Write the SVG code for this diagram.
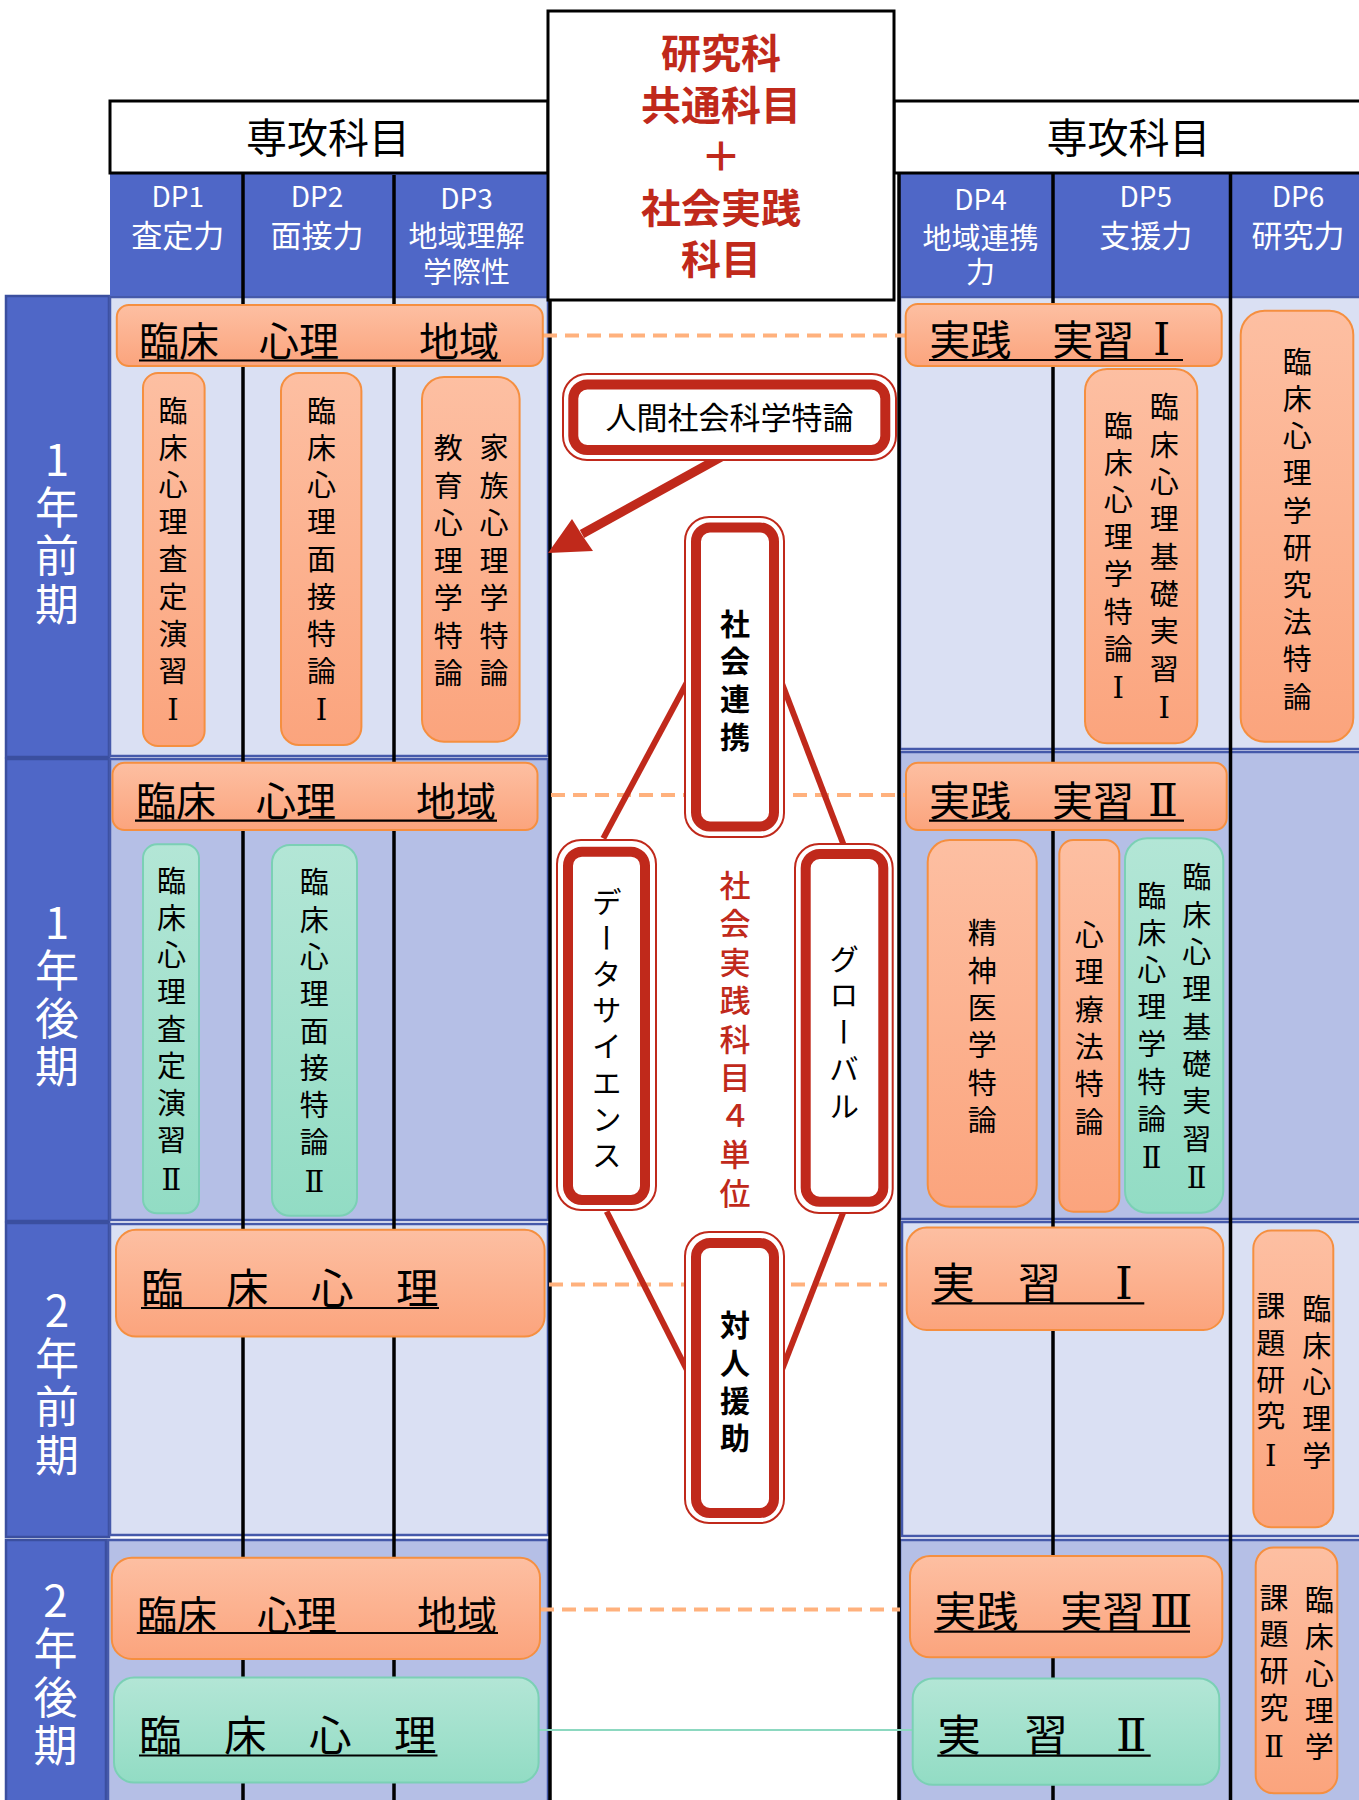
<svg xmlns="http://www.w3.org/2000/svg" width="1359" height="1800" viewBox="0 0 1359 1800">
<defs>
<linearGradient id="gOr" x1="0" y1="0" x2="0" y2="1"><stop offset="0" stop-color="#FDBFA2"/><stop offset="1" stop-color="#FBA47D"/></linearGradient>
<linearGradient id="gTe" x1="0" y1="0" x2="0" y2="1"><stop offset="0" stop-color="#B3E6D6"/><stop offset="1" stop-color="#92DCC4"/></linearGradient>
<style>
text{font-family:"Noto Sans CJK JP","Noto Sans",sans-serif;fill:#000}
.rn{font-family:"DejaVu Serif","Liberation Serif","DejaVu Sans",serif}
.or{fill:url(#gOr);stroke:#F58F40;stroke-width:2}
.te{fill:url(#gTe);stroke:#7BD0B5;stroke-width:2}
.rl{fill:#DAE0F3;stroke:#4559AA;stroke-width:2.5}
.rm{fill:#B5BFE6;stroke:#4559AA;stroke-width:2.5}
.pb{fill:#4F67C7;stroke:#3B4F9F;stroke-width:2.5}
.hb{fill:#fff;stroke:#000;stroke-width:3}
.dpb{fill:#4F67C7}
.gl{stroke:#000;stroke-width:3.5}
.ul{stroke:#000;stroke-width:2.2}
.dash{stroke:#FFB17D;stroke-width:4;stroke-dasharray:14 8;fill:none}
.rt1{fill:#fff;stroke:#C0291B;stroke-width:2}
.rt2{fill:#fff;stroke:#C0291B;stroke-width:10}
.rline{stroke:#C0291B;stroke-width:6;fill:none}
.v{writing-mode:vertical-rl;text-orientation:upright;text-anchor:middle}
.pt{fill:#fff;font-size:44px;letter-spacing:4.3px}
.dp{fill:#fff;font-size:28px;text-anchor:middle}
.dpk{font-size:31px}
.dpk2{font-size:29px}
.vt{font-size:29px}
.hd{font-size:41px;text-anchor:middle}
.tt{fill:#C0291B;font-size:40px;font-weight:bold;text-anchor:middle}
</style>
</defs>

<g id="frame">
  <rect class="pb" x="6" y="296" width="103" height="461"/>
  <rect class="pb" x="6" y="759" width="103" height="462"/>
  <rect class="pb" x="6" y="1223" width="103" height="314"/>
  <rect class="pb" x="6" y="1540" width="100" height="262"/>
  <rect class="rl" x="110" y="297" width="438" height="459"/>
  <rect class="rm" x="110" y="759" width="438" height="461"/>
  <rect class="rl" x="110" y="1224" width="438" height="311"/>
  <rect class="rm" x="108" y="1540" width="440" height="262"/>
  <rect class="rl" x="900" y="297" width="462" height="452"/>
  <rect class="rm" x="900" y="752" width="462" height="467"/>
  <rect class="rl" x="902" y="1222" width="460" height="314"/>
  <rect class="rm" x="900" y="1540" width="462" height="262"/>
  <rect class="dpb" x="110" y="173" width="438" height="123"/>
  <rect class="dpb" x="898" y="173" width="461" height="123"/>
  <line class="gl" x1="243" y1="173" x2="243" y2="1800"/>
  <line class="gl" x1="394" y1="175" x2="394" y2="1800"/>
  <line class="gl" x1="1053" y1="173" x2="1053" y2="1800"/>
  <line class="gl" x1="1230.5" y1="173" x2="1230.5" y2="1800"/>
  <line class="gl" x1="550" y1="290" x2="550" y2="1800"/>
  <line class="gl" x1="899" y1="173" x2="899" y2="1800"/>
</g>

<g id="period-1"><text class="pt v" x="57" y="533.7">1年前期</text></g>
<g id="period-2"><text class="pt v" x="57" y="996.4">1年後期</text></g>
<g id="period-3"><text class="pt v" x="57" y="1384.7">2年前期</text></g>
<g id="period-4"><text class="pt v" x="55.5" y="1675">2年後期</text></g>

<g id="header-left"><rect class="hb" x="110" y="101" width="438" height="72"/><text class="hd" x="328" y="153">専攻科目</text></g>
<g id="header-right"><rect class="hb" x="894" y="101" width="470" height="72"/><text class="hd" x="1128.5" y="153">専攻科目</text></g>
<g id="header-center"><rect class="hb" x="548" y="11" width="346" height="289"/>
  <text class="tt"><tspan x="721" y="68">研究科</tspan><tspan x="721" y="119.5">共通科目</tspan><tspan x="721" y="171">＋</tspan><tspan x="721" y="222.5">社会実践</tspan><tspan x="721" y="274">科目</tspan></text>
</g>

<g id="dp1"><text class="dp"><tspan x="177.7" y="207">DP1</tspan><tspan class="dpk" x="177.7" y="247">査定力</tspan></text></g>
<g id="dp2"><text class="dp"><tspan x="317" y="207">DP2</tspan><tspan class="dpk" x="317" y="247">面接力</tspan></text></g>
<g id="dp3"><text class="dp"><tspan x="466.5" y="209">DP3</tspan><tspan class="dpk2" x="466.5" y="247">地域理解</tspan><tspan class="dpk2" x="466.5" y="283">学際性</tspan></text></g>
<g id="dp4"><text class="dp"><tspan x="980.5" y="210">DP4</tspan><tspan class="dpk2" x="980.5" y="249">地域連携</tspan><tspan class="dpk2" x="980.5" y="283">力</tspan></text></g>
<g id="dp5"><text class="dp"><tspan x="1145.7" y="207">DP5</tspan><tspan class="dpk" x="1145.7" y="247">支援力</tspan></text></g>
<g id="dp6"><text class="dp"><tspan x="1298" y="207">DP6</tspan><tspan class="dpk" x="1298" y="247">研究力</tspan></text></g>

<g id="connectors">
  <line class="dash" x1="543" y1="335.5" x2="905" y2="335.5"/>
  <line class="dash" x1="551" y1="795" x2="906" y2="795"/>
  <line class="dash" x1="549" y1="1284.5" x2="887" y2="1284.5"/>
  <line class="dash" x1="540" y1="1609.5" x2="900" y2="1609.5"/>
  <line x1="538.6" y1="1730" x2="912.7" y2="1730" stroke="#8CD8C0" stroke-width="1.8"/>
  <line class="rline" x1="692" y1="673" x2="603.3" y2="838.3"/>
  <line class="rline" x1="778" y1="673" x2="845" y2="848.5"/>
  <line class="rline" x1="606.7" y1="1211.5" x2="692" y2="1380"/>
  <line class="rline" x1="845" y1="1207.7" x2="778" y2="1380"/>
  <line x1="732" y1="451" x2="582" y2="534" stroke="#C0291B" stroke-width="9"/>
  <polygon points="548,553 572,519 582,535 593,551" fill="#C0291B"/>
</g>

<g id="n-jinkan"><rect class="rt1" x="563" y="374" width="333" height="86" rx="24"/><rect class="rt2" x="573.3" y="384.5" width="312" height="65.5" rx="14"/><text x="729.5" y="428.5" font-size="31" text-anchor="middle">人間社会科学特論</text></g>
<g id="n-renkei"><rect class="rt1" x="685" y="517" width="99" height="320" rx="24"/><rect class="rt2" x="696" y="527.5" width="78" height="299" rx="14"/>
  <text class="v" x="735" y="683.9" font-size="30" font-weight="bold" letter-spacing="7.8">社会連携</text></g>
<g id="n-data"><rect class="rt1" x="557" y="840" width="99" height="370" rx="24"/><rect class="rt2" x="568" y="851.7" width="77" height="348.3" rx="14"/>
  <text x="606.7" y="1031" font-size="30" text-anchor="middle" letter-spacing="6.2" style="writing-mode:vertical-rl">データサイエンス</text></g>
<g id="n-global"><rect class="rt1" x="795" y="844" width="97.7" height="369" rx="24"/><rect class="rt2" x="805.7" y="854" width="77.6" height="347.7" rx="14"/>
  <text x="844" y="1035" font-size="30" text-anchor="middle" letter-spacing="6.75" style="writing-mode:vertical-rl">グローバル</text></g>
<g id="n-taijin"><rect class="rt1" x="685" y="1232" width="99" height="291" rx="24"/><rect class="rt2" x="696" y="1243" width="78" height="270" rx="14"/>
  <text class="v" x="735" y="1385.2" font-size="30" font-weight="bold" letter-spacing="7.6">対人援助</text></g>
<g id="n-shakai-label"><text class="v" x="735" y="1042.8" font-size="31" font-weight="500" letter-spacing="7.5" style="fill:#C0291B">社会実践科目４単位</text></g>

<!-- Row 1 -->
<g id="n-r1-band"><rect class="or" x="116.8" y="305" width="426" height="61" rx="12"/><text x="139" y="356" font-size="40">臨床　心理　　地域</text><line class="ul" x1="139" y1="360.5" x2="501" y2="360.5"/></g>
<g id="n-satei1"><rect class="or" x="143" y="373" width="61.6" height="373" rx="15"/>
  <text class="vt v" x="173" y="566" letter-spacing="8.15">臨床心理査定演習<tspan class="rn">Ⅰ</tspan></text></g>
<g id="n-mensetsu1"><rect class="or" x="281" y="373" width="80.4" height="372" rx="18"/>
  <text class="vt v" x="321.4" y="566" letter-spacing="8.15">臨床心理面接特論<tspan class="rn">Ⅰ</tspan></text></g>
<g id="n-kazoku"><rect class="or" x="422" y="377" width="97.6" height="364.7" rx="22"/>
  <text class="vt v" x="494" y="565" letter-spacing="8.5">家族心理学特論</text>
  <text class="vt v" x="448.2" y="565" letter-spacing="8.5">教育心理学特論</text></g>
<g id="n-jissen1"><rect class="or" x="905.7" y="304" width="316" height="62" rx="12"/><text x="929.3" y="355" font-size="41">実践　実習<tspan class="rn" x="1153" font-size="44">Ⅰ</tspan></text><line class="ul" x1="929" y1="360" x2="1183" y2="360"/></g>
<g id="n-dp5-1"><rect class="or" x="1085" y="369" width="112.3" height="374.3" rx="22"/>
  <text class="vt v" x="1164.3" y="563.3" letter-spacing="8.3">臨床心理基礎実習<tspan class="rn">Ⅰ</tspan></text>
  <text class="vt v" x="1118.3" y="562.4" letter-spacing="8.14">臨床心理学特論<tspan class="rn">Ⅰ</tspan></text></g>
<g id="n-dp6-1"><rect class="or" x="1240.7" y="310.7" width="112.6" height="431" rx="24"/>
  <text class="vt v" x="1297.3" y="533.3" letter-spacing="8.2">臨床心理学研究法特論</text></g>

<!-- Row 2 -->
<g id="n-r2-band"><rect class="or" x="112.5" y="762.7" width="425" height="67.3" rx="12"/><text x="136" y="815.5" font-size="40">臨床　心理　　地域</text><line class="ul" x1="135" y1="820.7" x2="497" y2="820.7"/></g>
<g id="n-satei2"><rect class="te" x="143" y="844.3" width="56" height="369" rx="14"/>
  <text class="vt v" x="171.4" y="1035.7" letter-spacing="8.1">臨床心理査定演習<tspan class="rn">Ⅱ</tspan></text></g>
<g id="n-mensetsu2"><rect class="te" x="272" y="845" width="85" height="370.7" rx="18"/>
  <text class="vt v" x="314.3" y="1037.4" letter-spacing="8.1">臨床心理面接特論<tspan class="rn">Ⅱ</tspan></text></g>
<g id="n-jissen2"><rect class="or" x="906" y="762.7" width="320.7" height="67.3" rx="12"/><text x="929" y="815.5" font-size="41">実践　実習<tspan class="rn" x="1148" font-size="44">Ⅱ</tspan></text><line class="ul" x1="929" y1="820.7" x2="1184" y2="820.7"/></g>
<g id="n-seishin"><rect class="or" x="927.7" y="840" width="109" height="366.7" rx="22"/>
  <text class="vt v" x="982.3" y="1030.9" letter-spacing="8.33">精神医学特論</text></g>
<g id="n-ryoho"><rect class="or" x="1059.3" y="840" width="60" height="371.7" rx="14"/>
  <text class="vt v" x="1089.3" y="1032.5" letter-spacing="8.3">心理療法特論</text></g>
<g id="n-dp5-2"><rect class="te" x="1125" y="838.3" width="98.3" height="374.4" rx="22"/>
  <text class="vt v" x="1196.7" y="1033.3" letter-spacing="8.3">臨床心理基礎実習<tspan class="rn">Ⅱ</tspan></text>
  <text class="vt v" x="1151.7" y="1032.4" letter-spacing="8.14">臨床心理学特論<tspan class="rn">Ⅱ</tspan></text></g>

<!-- Row 3 -->
<g id="n-r3-band"><rect class="or" x="116" y="1229.8" width="428.6" height="106.8" rx="20"/><text x="141" y="1304" font-size="42.5">臨　床　心　理</text><line class="ul" x1="141" y1="1308" x2="439" y2="1308"/></g>
<g id="n-jisshu1"><rect class="or" x="906.7" y="1227.6" width="316.6" height="102.4" rx="20"/><text x="931.7" y="1298.5" font-size="43">実　習　<tspan class="rn" x="1115" font-size="45">Ⅰ</tspan></text><line class="ul" x1="931.7" y1="1303.3" x2="1144.3" y2="1303.3"/></g>
<g id="n-kadai1"><rect class="or" x="1253.3" y="1230.6" width="80" height="296.6" rx="18"/>
  <text class="vt v" x="1316.7" y="1386.1" letter-spacing="7.65">臨床心理学</text>
  <text class="vt v" x="1270.7" y="1386.1" letter-spacing="7.65">課題研究<tspan class="rn">Ⅰ</tspan></text></g>

<!-- Row 4 -->
<g id="n-r4-band"><rect class="or" x="111.8" y="1557.8" width="428.2" height="101.2" rx="20"/><text x="137" y="1629.5" font-size="40">臨床　心理　　地域</text><line class="ul" x1="136.8" y1="1633" x2="498" y2="1633"/></g>
<g id="n-r4-teal"><rect class="te" x="114" y="1677.6" width="424.6" height="105" rx="20"/><text x="139" y="1750.5" font-size="42.5">臨　床　心　理</text><line class="ul" x1="139" y1="1755.5" x2="437.5" y2="1755.5"/></g>
<g id="n-jissen3"><rect class="or" x="910" y="1556" width="312.3" height="101.3" rx="20"/><text x="934.3" y="1626.5" font-size="42">実践　実習<tspan class="rn" x="1150" font-size="44">Ⅲ</tspan></text><line class="ul" x1="934.3" y1="1631.7" x2="1190" y2="1631.7"/></g>
<g id="n-jisshu2"><rect class="te" x="912.7" y="1678.4" width="306.6" height="106.4" rx="20"/><text x="937.3" y="1750.5" font-size="43.5">実　習　<tspan class="rn" x="1116" font-size="45">Ⅱ</tspan></text><line class="ul" x1="937.3" y1="1755.7" x2="1150.7" y2="1755.7"/></g>
<g id="n-kadai2"><rect class="or" x="1255.7" y="1547.5" width="81.6" height="245.7" rx="18"/>
  <text class="vt v" x="1319.3" y="1677.6" letter-spacing="7.8">臨床心理学</text>
  <text class="vt v" x="1274" y="1677.6" letter-spacing="7.8">課題研究<tspan class="rn">Ⅱ</tspan></text></g>
</svg>
